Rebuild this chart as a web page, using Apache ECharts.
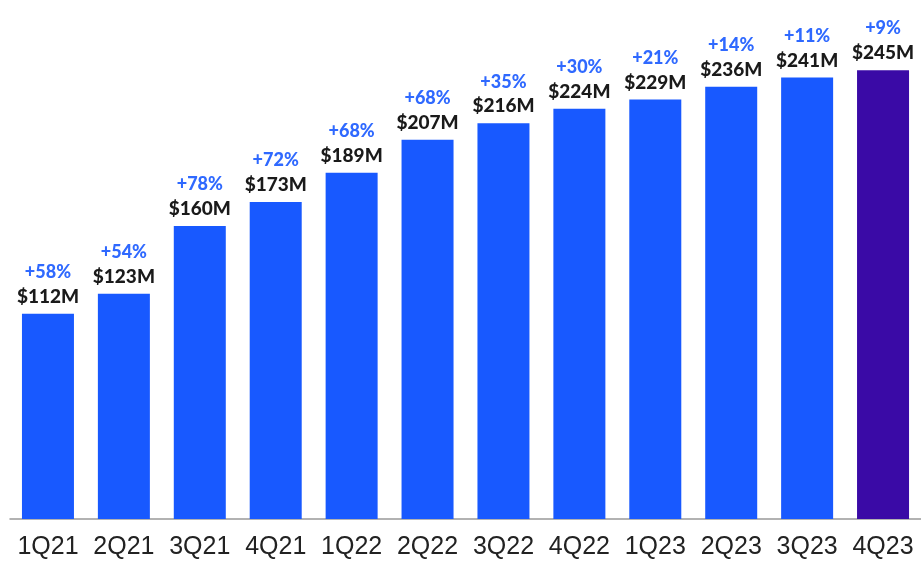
<!DOCTYPE html>
<html><head><meta charset="utf-8">
<script src="https://cdn.jsdelivr.net/npm/echarts@6/dist/echarts.min.js"></script>
<style>html,body{margin:0;padding:0;background:#fff}#c{width:921px;height:561px}</style>
</head><body><div id="c"></div>
<script>
const categories = ['1Q21','2Q21','3Q21','4Q21','1Q22','2Q22','3Q22','4Q22','1Q23','2Q23','3Q23','4Q23'];
const revenue = [112,123,160,173,189,207,216,224,229,236,241,245];
const growth = ['+58%','+54%','+78%','+72%','+68%','+68%','+35%','+30%','+21%','+14%','+11%','+9%'];

const chart = echarts.init(document.getElementById('c'));
chart.setOption({
  animation: false,
  grid: {left: 10, right: 0, top: 61, bottom: 42},
  xAxis: {
    type: 'category', data: categories,
    axisLine: {lineStyle: {color: '#999', width: 1.5}},
    axisTick: {show: false},
    axisLabel: {interval: 0, color: '#222', fontSize: 25, fontFamily: 'Liberation Sans', margin: 16}
  },
  yAxis: {type: 'value', min: 0, max: 250, show: false, splitLine: {show: false}},
  series: [{
    type: 'bar', barWidth: 52,
    data: revenue.map((v, i) => ({value: v, itemStyle: {color: i === revenue.length - 1 ? '#3a0aa6' : '#1859ff'}})),
    label: {
      show: true, position: 'top', distance: 6,
      formatter: p => '{p|' + growth[p.dataIndex] + '}\n{v|$' + p.value + 'M}',
      rich: {
        p: {color: '#2f69ff', fontSize: 18, fontWeight: 900, fontFamily: 'Lato', lineHeight: 27},
        v: {color: '#1a1a1a', fontSize: 19, fontWeight: 900, fontFamily: 'Lato', lineHeight: 22}
      }
    }
  }]
});
</script></body></html>
